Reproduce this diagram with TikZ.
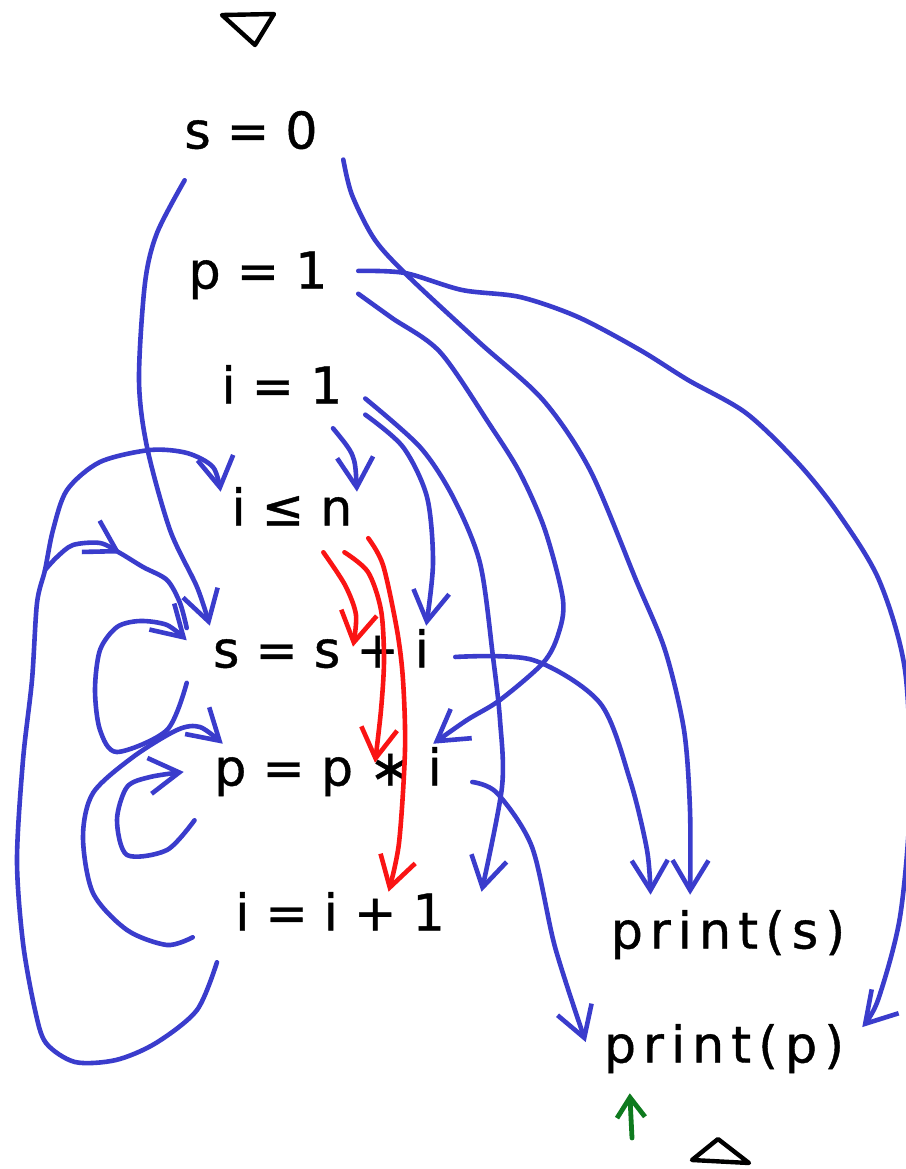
\documentclass[tikz,border=0pt]{standalone}
\usepackage{fontspec}
\setmainfont{DejaVu Sans}[FakeBold=0.8]
\newfontfamily\spacedfont{DejaVu Sans}[LetterSpace=14, FakeBold=0.8]
\usetikzlibrary{arrows.meta,decorations.markings}
\definecolor{inkblue}{RGB}{58,60,204}
\definecolor{inkred}{RGB}{250,20,20}
\definecolor{inkgreen}{RGB}{14,122,30}

\tikzset{
  stmt/.style={inner sep=0pt, text height=0.75em, text depth=0.25em, font=\fontsize{36}{40}\selectfont},
  prt/.style={stmt, font=\spacedfont\fontsize{36}{40}\selectfont},
  flow/.style={inkblue, line width=1.15mm, line cap=round, line join=round},
  dep/.style={flow, -{Straight Barb[length=7.5mm,width=9mm]}},
  ctl/.style={dep, inkred},
  cur/.style={inkgreen, line width=1.2mm, line cap=round, -{Straight Barb[length=5mm,width=7mm]}},
  delim/.style={black, line width=1.1mm, line join=round},
  midtip/.style={postaction={decorate}, decoration={markings,
      mark=at position #1 with {\arrow{Straight Barb[length=7.5mm,width=9mm]}}}}
}

\begin{document}
\begin{tikzpicture}[x=0.25mm, y=-0.25mm]
\clip (0,0) rectangle (906,1169);
\fill[white] (0,0) rectangle (906,1169);

% entry and exit marks
\draw[delim] (222,15) -- (274,14) -- (255,45) -- cycle;
\draw[delim] (692,1160) -- (718,1139) -- (749,1163) -- cycle;

% statements
\node[stmt, minimum width=46mm, minimum height=17.5mm] (s0) at (251,145) {s = 0};
\node[stmt, minimum width=50mm, minimum height=14mm] (p1) at (258,285) {p = 1};
\node[stmt, minimum width=41.5mm, minimum height=14mm] (i1) at (282,400) {i = 1};
\node[stmt, minimum width=38mm, minimum height=15mm] (le) at (292,522) {i ≤ n};
\node[stmt, minimum width=67mm, minimum height=19mm] (ss) at (321,664) {s = s + i};
\node[stmt, minimum width=72mm, minimum height=19mm] (pp) at (328,782) {p = p ∗ i};
\node[stmt, minimum width=73.5mm, minimum height=17.5mm] (ii) at (340,927) {i = i + 1};
\node[prt, minimum width=65mm, minimum height=25mm] (ps) at (728,945) {print(s)};
\node[prt, minimum width=69mm, minimum height=17mm] (pr) at (724,1059) {print(p)};

% data dependences
\draw[dep] plot[smooth] coordinates {(s0.208) (157,233) (145,283) (139,380) (147,447) (170,530) (197,587) (ss.161)};
\draw[dep] plot[smooth] coordinates {(s0.-9) (352,195) (375,240) (410,278) (480,343) (543,400) (590,470) (636,580) (665,650) (684,730) (690,810) (ps.127)};
\draw[dep] plot[smooth] coordinates {(p1.8) (405,273) (462,290) (520,297) (578,317) (640,350) (688,380) (746,413) (798,463) (838,513) (879,580) (905,670) (910,800) (900,917) (878,1000) (pr.13)};
\draw[dep] plot[smooth] coordinates {(p1.-5) (392,318) (440,352) (490,425) (520,473) (545,530) (563,600) (558,635) (543,663) (500,700) (467,720) (pp.20)};
\draw[dep] (i1.-29) .. controls (355,455) .. (le.25);
\draw[dep] plot[smooth] coordinates {(i1.-10) (403,447) (427,497) (433,563) (ss.20)};
\draw[dep] plot[smooth] coordinates {(i1.1) (420,447) (453,497) (480,563) (493,657) (500,720) (502,787) (ii.14)};
\draw[dep] plot[smooth] coordinates {(ss.3) (533,660) (600,703) (630,780) (647,850) (ps.147)};
\draw[dep] plot[smooth] coordinates {(pp.0) (497,793) (532,847) (555,947) (pr.173)};

% loop carried
\draw[dep] plot[smooth] coordinates {(ss.188) (167,730) (117,752) (100,730) (95,690) (100,650) (117,627) (140,621) (167,625) (ss.170)};
\draw[dep] plot[smooth] coordinates {(pp.196) (167,850) (127,855) (117,820) (127,787) (150,777) (pp.176)};
\draw[dep] plot[smooth] coordinates {(ii.184) (167,945) (127,930) (93,893) (83,837) (93,793) (133,757) (177,730) (200,727) (pp.160)};
\draw[dep] plot[smooth] coordinates {(ii.196) (197,1010) (156,1043) (116,1060) (75,1062) (46,1043) (35,1010) (23,943) (17,860) (23,760) (32,680) (37,603) (45,570) (53,530) (67,490) (100,462) (150,450) (187,453) (213,467) (le.157)};
\coordinate (split) at (45,570);
\draw[flow, midtip=-26.5mm] plot[smooth] coordinates {(split) (57,557) (73,545) (100,543) (120,553) (143,567) (167,580) (180,603) (ss.165)};

% control dependences
\draw[ctl] plot[smooth] coordinates {(le.-44) (345,585) (356,615) ([xshift=8mm,yshift=-5.25mm]ss.north)};
\draw[ctl] plot[smooth] coordinates {(le.-30) (368,572) (381,610) (384,660) (381,710) ([xshift=11.75mm,yshift=-4.75mm]pp.north)};
\draw[ctl] plot[smooth] coordinates {(le.-12) (383,565) (397,630) (403,680) (405,750) (399,843) (ii.36)};

% current point
\coordinate (cursor) at (632,1138);
\draw[cur] (cursor) -- (pr.200);
\end{tikzpicture}
\end{document}
